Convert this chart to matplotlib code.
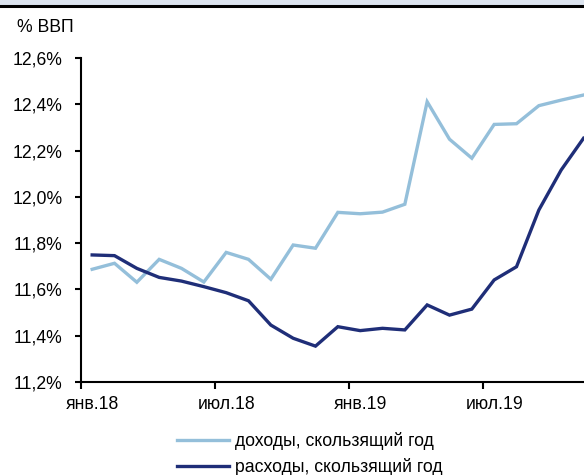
import numpy as np
import matplotlib.pyplot as plt
from matplotlib.patches import Rectangle
from matplotlib.lines import Line2D

plt.rcParams['font.family'] = ['Liberation Sans', 'DejaVu Sans']

# monthly points, Jan 2018 .. Nov 2019
months = ['янв.18', 'фев.18', 'мар.18', 'апр.18', 'май.18', 'июн.18',
          'июл.18', 'авг.18', 'сен.18', 'окт.18', 'ноя.18', 'дек.18',
          'янв.19', 'фев.19', 'мар.19', 'апр.19', 'май.19', 'июн.19',
          'июл.19', 'авг.19', 'сен.19', 'окт.19', 'ноя.19']
revenue = [11.687, 11.713, 11.631, 11.730, 11.691, 11.632, 11.760, 11.730,
           11.644, 11.792, 11.778, 11.933, 11.927, 11.934, 11.968, 12.411,
           12.249, 12.167, 12.313, 12.316, 12.394, 12.418, 12.440]
spending = [11.749, 11.746, 11.691, 11.652, 11.636, 11.612, 11.586, 11.551,
            11.446, 11.389, 11.355, 11.439, 11.422, 11.432, 11.425, 11.533,
            11.489, 11.515, 11.641, 11.698, 11.943, 12.116, 12.253]
labels = ['доходы, скользящий год', 'расходы, скользящий год']
yticks = [11.2, 11.4, 11.6, 11.8, 12.0, 12.2, 12.4, 12.6]

light = '#94BFDA'
dark = '#1F2E78'

W, H = 584, 475
fig = plt.figure(figsize=(W / 100, H / 100), dpi=100)

# header band + rule
fig.patches.append(Rectangle((0, 1 - 5 / H), 1, 5 / H, transform=fig.transFigure,
                             color='#DCE4EF', zorder=0))
fig.add_artist(Line2D([0, 1], [1 - 6 / H, 1 - 6 / H], color='black', lw=2.2))

fs = 12.7
ax = fig.add_axes([81 / W, (H - 382) / H, 536 / W, 324 / H])
x = np.arange(len(months))
ax.plot(x, revenue, color=light, lw=2.4, solid_joinstyle='miter', label=labels[0])
ax.plot(x, spending, color=dark, lw=2.4, solid_joinstyle='miter', label=labels[1])

ax.set_xlim(-0.5, 23.5)
ax.set_ylim(11.2, 12.6)
ax.set_yticks(yticks)
ax.set_yticklabels([f'{v:.1f}%'.replace('.', ',') for v in yticks], fontsize=fs)

# tick marks at month boundaries, labels centred on the month
ax.set_xticks([-0.5, 5.5, 11.5, 17.5])
ax.set_xticklabels([])
ax.set_xticks([0, 6, 12, 18], minor=True)
ax.set_xticklabels([months[i] for i in [0, 6, 12, 18]], minor=True, fontsize=fs)
ax.tick_params(axis='x', which='minor', length=0, pad=10)
ax.tick_params(axis='x', which='major', length=5, width=1.5, direction='out')
ax.tick_params(axis='y', length=4, width=1.5, direction='out', pad=9.5)

for s in ['top', 'right']:
    ax.spines[s].set_visible(False)
for s in ['left', 'bottom']:
    ax.spines[s].set_linewidth(1.5)

fig.text(17 / W, 1 - 27 / H, '% ВВП', fontsize=fs, va='center', ha='left')

fig.legend(loc='upper left', bbox_to_anchor=(170 / W, 1 - 425 / H), frameon=False,
           fontsize=fs, handlelength=2.95, handletextpad=0.35, labelspacing=0.45,
           borderaxespad=0)

fig.savefig('out.png', dpi=100)
